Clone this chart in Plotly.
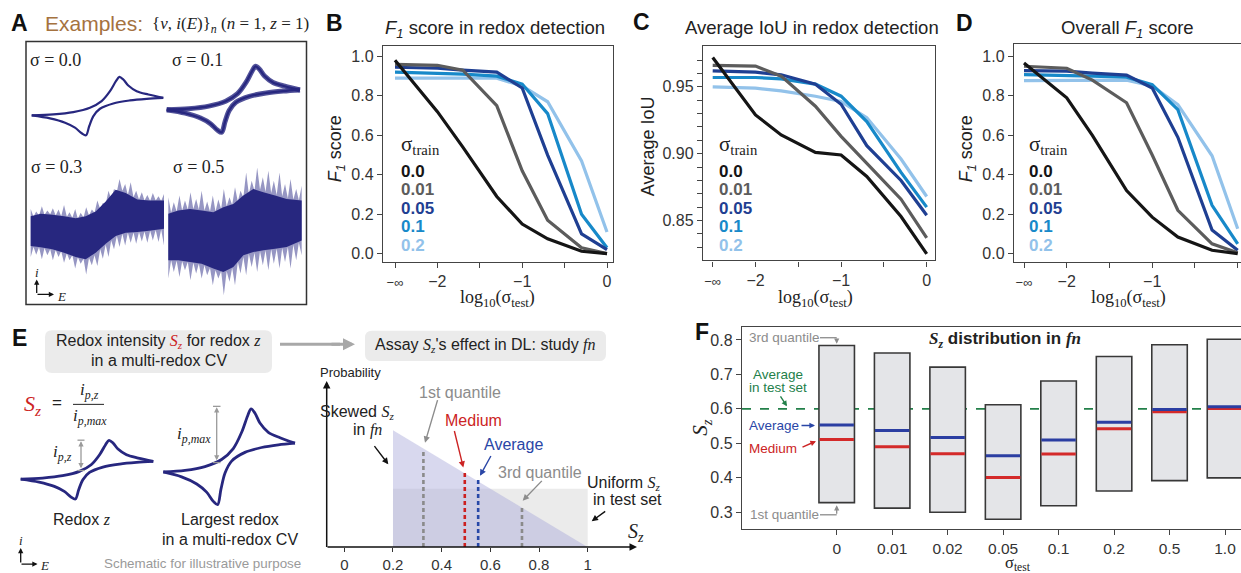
import plotly.graph_objects as go

W, H = 1241, 573
SANS = "Liberation Sans, Arial, sans-serif"
SERIF = "Liberation Serif, Times New Roman, serif"
INK = "#222222"
NAVY = "#27277f"
GRAY_TXT = "#8c8c8c"
RED = "#cc2424"
BLUE = "#2a46a6"
GREEN = "#23804a"

# ---------------------------------------------------------------- data
# log10(sigma_test) positions; sigma_test = 0 (-inf) is drawn at -2.5
log_sigma_test = [-2.5, -2.0, -1.7, -1.3, -1.0, -0.7, -0.3, 0.0]
x_tick_vals = [-2.5, -2.0, -1.5, -1.0, -0.5, 0.0]
x_tick_text = ["<span style='font-size:13px'>−∞</span>", "−2", "", "−1", "", "0"]

sigma_train_labels = ["0.0", "0.01", "0.05", "0.1", "0.2"]
train_colors = ["#151515", "#5c5c5c", "#1f3f92", "#1789c9", "#92c2ea"]

# B: F1 score in redox detection
f1_redox_000 = [0.98, 0.72, 0.54, 0.29, 0.15, 0.075, 0.012, 0.00]
f1_redox_001 = [0.96, 0.955, 0.93, 0.75, 0.42, 0.17, 0.03, 0.00]
f1_redox_005 = [0.945, 0.94, 0.93, 0.92, 0.84, 0.50, 0.10, 0.02]
f1_redox_010 = [0.92, 0.915, 0.91, 0.90, 0.86, 0.71, 0.20, 0.03]
f1_redox_020 = [0.89, 0.89, 0.89, 0.89, 0.85, 0.77, 0.47, 0.11]

# C: average IoU in redox detection
iou_000 = [0.972, 0.929, 0.914, 0.901, 0.899, 0.883, 0.853, 0.825]
iou_001 = [0.966, 0.9655, 0.958, 0.9355, 0.913, 0.893, 0.866, 0.837]
iou_005 = [0.962, 0.961, 0.959, 0.952, 0.937, 0.906, 0.880, 0.854]
iou_010 = [0.957, 0.957, 0.956, 0.952, 0.943, 0.924, 0.886, 0.860]
iou_020 = [0.950, 0.949, 0.947, 0.943, 0.939, 0.927, 0.896, 0.868]
iou_tick_vals = [0.83, 0.84, 0.85, 0.86, 0.87, 0.88, 0.89, 0.90, 0.91, 0.92, 0.93, 0.94, 0.95, 0.96, 0.97]
iou_tick_text = ["", "", "0.85", "", "", "", "", "0.90", "", "", "", "", "0.95", "", ""]

# D: overall F1 score
f1_all_000 = [0.966, 0.79, 0.60, 0.32, 0.185, 0.084, 0.017, 0.00]
f1_all_001 = [0.95, 0.94, 0.88, 0.765, 0.50, 0.22, 0.05, 0.005]
f1_all_005 = [0.928, 0.925, 0.915, 0.905, 0.84, 0.59, 0.12, 0.017]
f1_all_010 = [0.908, 0.905, 0.90, 0.895, 0.857, 0.73, 0.245, 0.05]
f1_all_020 = [0.877, 0.877, 0.877, 0.88, 0.85, 0.756, 0.496, 0.126]

f1_tick_vals = [0.0, 0.2, 0.4, 0.6, 0.8, 1.0]
f1_tick_text = ["0.0", "0.2", "0.4", "0.6", "0.8", "1.0"]

# F: S_z distribution in false negatives
sigma_test_labels = ["0", "0.01", "0.02", "0.05", "0.1", "0.2", "0.5", "1.0"]
sz_q3 = [0.784, 0.762, 0.721, 0.612, 0.681, 0.752, 0.786, 0.802]
sz_q1 = [0.328, 0.312, 0.300, 0.280, 0.319, 0.362, 0.392, 0.400]
sz_avg = [0.553, 0.537, 0.517, 0.464, 0.510, 0.561, 0.598, 0.606]
sz_med = [0.511, 0.490, 0.470, 0.401, 0.469, 0.542, 0.592, 0.601]
sz_test_avg = 0.6
sz_tick_vals = [0.3, 0.4, 0.5, 0.6, 0.7, 0.8]
sz_tick_text = ["0.3", "0.4", "0.5", "0.6", "0.7", "0.8"]

# E: schematic S_z densities
sz_support = [0.2, 1.0]
skew_peak = 2.5
uniform_level = 1.25
sz_q1_mark, sz_q1_top = 0.325, 2.09
sz_med_mark, sz_med_top = 0.495, 1.62
sz_avg_mark, sz_avg_top = 0.55, 1.45
sz_q3_mark, sz_q3_top = 0.73, 0.89
sz_axis_ticks = [0, 0.2, 0.4, 0.6, 0.8, 1]
sz_axis_text = ["0", "0.2", "0.4", "0.6", "0.8", "1"]

# Cyclic voltammogram (E in V, i in a.u.): forward and reverse branches
cv_fwd_E = [-0.30, -0.168, -0.047, 0.054, 0.125, 0.176, 0.212, 0.233, 0.257, 0.287, 0.338, 0.409, 0.50]
cv_fwd_i = [-0.18, -0.15, -0.08, 0.05, 0.25, 0.55, 0.85, 0.98, 0.90, 0.72, 0.55, 0.45, 0.35]
cv_rev_E = [0.50, 0.399, 0.297, 0.196, 0.115, 0.075, 0.050, 0.030, 0.004, -0.037, -0.097, -0.189, -0.30]
cv_rev_i = [0.35, 0.32, 0.27, 0.18, 0.02, -0.20, -0.50, -0.78, -0.72, -0.55, -0.40, -0.27, -0.18]

# Noisy CVs: dense core band and ragged spike envelope
noise_E_core = [-0.30, -0.24, -0.17, -0.10, -0.03, 0.03, 0.09, 0.15, 0.21, 0.27, 0.34, 0.41, 0.50]
noise_E_spk = [-0.300, -0.283, -0.267, -0.250, -0.233, -0.217, -0.200, -0.183, -0.167, -0.150,
               -0.133, -0.117, -0.100, -0.083, -0.067, -0.050, -0.033, -0.017, 0.000, 0.017,
               0.033, 0.050, 0.067, 0.083, 0.100, 0.117, 0.133, 0.150, 0.167, 0.183,
               0.200, 0.217, 0.233, 0.250, 0.267, 0.283, 0.300, 0.317, 0.333, 0.350,
               0.367, 0.383, 0.400, 0.417, 0.433, 0.450, 0.467, 0.483, 0.500]

s03_core_top = [0.38, 0.45, 0.42, 0.38, 0.32, 0.38, 0.52, 0.82, 1.18, 1.08, 0.88, 0.85, 0.85]
s03_core_bot = [-0.52, -0.56, -0.62, -0.72, -0.85, -0.92, -0.72, -0.45, -0.22, -0.12, -0.10, -0.06, 0.00]
s03_spk_top = [0.60, 0.36, 0.52, 0.40, 0.68, 0.42, 0.55, 0.44, 0.62, 0.40,
               0.58, 0.38, 0.72, 0.36, 0.50, 0.33, 0.60, 0.30, 0.48, 0.34,
               0.65, 0.40, 0.58, 0.48, 0.85, 0.60, 0.78, 0.75, 1.15, 0.90,
               1.20, 1.12, 1.50, 1.15, 1.35, 1.02, 1.40, 0.95, 1.15, 0.88,
               1.10, 0.85, 1.02, 0.84, 1.08, 0.85, 0.98, 0.84, 1.05]
s03_spk_bot = [-0.85, -0.55, -0.78, -0.56, -0.92, -0.58, -0.80, -0.62, -0.95, -0.64,
               -0.85, -0.68, -1.02, -0.74, -0.95, -0.80, -1.20, -0.86, -1.05, -0.90,
               -1.38, -0.88, -1.10, -0.80, -1.12, -0.62, -0.90, -0.48, -0.85, -0.35,
               -0.62, -0.22, -0.55, -0.15, -0.50, -0.12, -0.42, -0.11, -0.45, -0.10,
               -0.38, -0.08, -0.42, -0.06, -0.35, -0.04, -0.40, -0.02, -0.50]

s05_core_top = [0.45, 0.55, 0.60, 0.55, 0.50, 0.65, 0.75, 1.00, 1.20, 1.10, 1.00, 0.90, 0.85]
s05_core_bot = [-0.95, -0.95, -1.00, -1.05, -1.20, -1.30, -1.15, -0.80, -0.70, -0.65, -0.60, -0.55, -0.35]
s05_spk_top = [0.95, 0.48, 0.80, 0.52, 1.00, 0.55, 0.85, 0.58, 1.10, 0.60,
               0.90, 0.58, 1.15, 0.55, 0.82, 0.52, 1.00, 0.52, 0.88, 0.60,
               1.20, 0.68, 0.95, 0.72, 1.25, 0.82, 1.15, 0.95, 1.70, 1.05,
               1.45, 1.15, 1.85, 1.18, 1.55, 1.12, 1.75, 1.08, 1.45, 1.02,
               1.70, 0.98, 1.35, 0.92, 1.50, 0.88, 1.20, 0.86, 1.30]
s05_spk_bot = [-1.50, -0.95, -1.30, -0.96, -1.45, -0.98, -1.25, -1.00, -1.55, -1.02,
               -1.35, -1.05, -1.50, -1.10, -1.40, -1.18, -1.70, -1.25, -1.50, -1.28,
               -2.00, -1.28, -1.60, -1.18, -1.70, -1.00, -1.35, -0.85, -1.40, -0.75,
               -1.15, -0.72, -1.30, -0.68, -1.10, -0.65, -1.25, -0.62, -1.05, -0.60,
               -1.20, -0.58, -1.00, -0.55, -1.20, -0.48, -0.95, -0.42, -0.80]


# ---------------------------------------------------------------- helpers
def X(p):
    return p / W


def Y(p):
    return 1 - p / H


def span(p_lo, p_hi, pa, va, pb, vb):
    k = (vb - va) / (pb - pa)
    return [va + (p_lo - pa) * k, va + (p_hi - pa) * k]


fig = go.Figure()
layout = dict(width=W, height=H, margin=dict(l=0, r=0, t=0, b=0),
              paper_bgcolor="white", plot_bgcolor="rgba(0,0,0,0)", showlegend=False)
annotations = []
shapes = []

TICKFONT = dict(family=SANS, size=16, color="#333333")


def framed_axes(n, x0, x1, y0, y1, xr, yr, xt, xl, yt, yl, ymirror=True):
    s = "" if n == 1 else str(n)
    layout["xaxis" + s] = dict(domain=[X(x0), X(x1)], range=xr, anchor="y" + s,
                               showline=True, linecolor="#444", linewidth=1.4, mirror=True,
                               ticks="outside", ticklen=5, tickwidth=1.3, tickcolor="#444",
                               tickvals=xt, ticktext=xl, tickfont=TICKFONT,
                               showgrid=False, zeroline=False, fixedrange=True)
    layout["yaxis" + s] = dict(domain=[Y(y1), Y(y0)], range=yr, anchor="x" + s,
                               showline=True, linecolor="#444", linewidth=1.4, mirror=ymirror,
                               ticks="outside", ticklen=5, tickwidth=1.3, tickcolor="#444",
                               tickvals=yt, ticktext=yl, tickfont=TICKFONT,
                               showgrid=False, zeroline=False, fixedrange=True)


def hidden_axes(n, x0, x1, y0, y1, xr, yr):
    s = str(n)
    layout["xaxis" + s] = dict(domain=[X(x0), X(x1)], range=xr, anchor="y" + s, visible=False, fixedrange=True)
    layout["yaxis" + s] = dict(domain=[Y(y1), Y(y0)], range=yr, anchor="x" + s, visible=False, fixedrange=True)


def text(x, y, s, size=16, color=INK, family=SANS, xanchor="center", yanchor="middle", angle=0):
    annotations.append(dict(x=X(x), y=Y(y), xref="paper", yref="paper", text=s, showarrow=False,
                            font=dict(family=family, size=size, color=color),
                            xanchor=xanchor, yanchor=yanchor, textangle=angle))


def arrow(xt, yt, xh, yh, color=INK, width=1.5, size=1.0, side="end"):
    annotations.append(dict(x=X(xh), y=Y(yh), xref="paper", yref="paper",
                            ax=xt - xh, ay=yt - yh, axref="pixel", ayref="pixel",
                            text="", showarrow=True, arrowhead=2, startarrowhead=2,
                            arrowsize=size, startarrowsize=size, arrowwidth=width,
                            arrowcolor=color, arrowside=side))


def seg(x0, y0, x1, y1, color, width=1.5):
    shapes.append(dict(type="line", xref="paper", yref="paper", x0=X(x0), y0=Y(y0), x1=X(x1), y1=Y(y1),
                       line=dict(color=color, width=width)))


def rounded_box(x0, y0, x1, y1, r, color):
    def P(x, y):
        return f"{X(x):.5f},{Y(y):.5f}"
    path = (f"M{P(x0 + r, y0)} L{P(x1 - r, y0)} Q{P(x1, y0)} {P(x1, y0 + r)} "
            f"L{P(x1, y1 - r)} Q{P(x1, y1)} {P(x1 - r, y1)} L{P(x0 + r, y1)} "
            f"Q{P(x0, y1)} {P(x0, y1 - r)} L{P(x0, y0 + r)} Q{P(x0, y0)} {P(x0 + r, y0)} Z")
    shapes.append(dict(type="path", xref="paper", yref="paper", path=path,
                       fillcolor=color, line=dict(width=0), layer="below"))


def sub_serif(base, sub):
    return (f"<span style='font-family:Liberation Serif'><i>{base}</i><sub><i>{sub}</i></sub></span>")


# ---------------------------------------------------------------- B, C, D line panels
framed_axes(1, 383, 613, 46, 263, span(383, 613, 395, -2.5, 607, 0.0), span(263, 46, 255, 0.0, 56.7, 1.0),
            x_tick_vals, x_tick_text, f1_tick_vals, f1_tick_text)
framed_axes(2, 703, 935, 46.7, 261.7, span(703, 935, 712.7, -2.5, 926.7, 0.0),
            span(261.7, 46.7, 221.7, 0.85, 87.3, 0.95),
            x_tick_vals, x_tick_text, iou_tick_vals, iou_tick_text)
framed_axes(3, 1014, 1241, 44.3, 263.3, span(1014, 1241, 1024, -2.5, 1237.7, 0.0),
            span(263.3, 44.3, 255, 0.0, 56.7, 1.0),
            x_tick_vals, x_tick_text, f1_tick_vals, f1_tick_text, ymirror=False)

panel_series = [
    ("x", "y", [f1_redox_000, f1_redox_001, f1_redox_005, f1_redox_010, f1_redox_020]),
    ("x2", "y2", [iou_000, iou_001, iou_005, iou_010, iou_020]),
    ("x3", "y3", [f1_all_000, f1_all_001, f1_all_005, f1_all_010, f1_all_020]),
]
for xa, ya, series in panel_series:
    for vals, col in reversed(list(zip(series, train_colors))):
        fig.add_trace(go.Scatter(x=log_sigma_test, y=vals, mode="lines", xaxis=xa, yaxis=ya,
                                 line=dict(color=col, width=3.2), hoverinfo="skip"))

# panel titles, axis titles and sigma_train keys
text(495, 29, "<i>F</i><sub><i>1</i></sub> score in redox detection", size=18.5)
text(812, 28, "Average IoU in redox detection", size=18.5)
text(1127, 29, "Overall <i>F</i><sub><i>1</i></sub> score", size=18.5)
text(336, 150, "<i>F</i><sub><i>1</i></sub> score", size=18, angle=-90)
text(648, 147, "Average IoU", size=18, angle=-90)
text(967, 150, "<i>F</i><sub><i>1</i></sub> score", size=18, angle=-90)
for cx in (497, 815, 1128):
    text(cx, 300, "log<sub>10</sub>(σ<sub>test</sub>)", size=18, family=SERIF)
key_rows = [172, 191, 209.5, 228, 247]
for lx in (399, 717, 1027):
    text(lx, 146, "σ<sub>train</sub>", size=21, family=SERIF, xanchor="left")
    for lab, col, ry in zip(sigma_train_labels, train_colors, key_rows):
        text(lx, ry, f"<b>{lab}</b>", size=17, color=col, xanchor="left")

# panel letters
for lx, ly, lt in [(20, 23, "A"), (334.5, 23.5, "B"), (641, 22, "C"), (964, 23.5, "D"),
                   (19, 340, "E"), (702, 334, "F")]:
    text(lx, ly, f"<b>{lt}</b>", size=23, color="#111")

# ---------------------------------------------------------------- F: S_z distribution
framed_axes(4, 742, 1241, 329, 532, span(742, 1241, 836.7, 0, 1225, 7), span(532, 329, 515, 0.3, 341.7, 0.8),
            list(range(len(sigma_test_labels))), sigma_test_labels, sz_tick_vals, sz_tick_text, ymirror=False)
layout["xaxis4"]["tickfont"] = dict(family=SANS, size=15.5, color="#333333")
shapes.append(dict(type="line", xref="paper", yref="y4", x0=X(742), x1=X(1241), y0=sz_test_avg, y1=sz_test_avg,
                   line=dict(color=GREEN, width=1.6, dash="dash"), layer="below"))
idx = list(range(len(sigma_test_labels)))
fig.add_trace(go.Bar(x=idx, y=[hi - lo for hi, lo in zip(sz_q3, sz_q1)], base=sz_q1, width=0.64,
                     marker=dict(color="#e4e5e8", line=dict(color="#383838", width=1.6)),
                     xaxis="x4", yaxis="y4", hoverinfo="skip"))
half = 0.31
for vals, col in ((sz_med, "#d42a2a"), (sz_avg, "#2b3ea2")):
    xs, ys = [], []
    for k, v in zip(idx, vals):
        xs += [k - half, k + half, None]
        ys += [v, v, None]
    fig.add_trace(go.Scatter(x=xs, y=ys, mode="lines", line=dict(color=col, width=3),
                             xaxis="x4", yaxis="y4", hoverinfo="skip"))

text(1005, 342, "<b>" + sub_serif("S", "z") + " distribution in "
     "<span style='font-family:Liberation Serif'><i>fn</i></span></b>", size=17)
text(701, 430, sub_serif("S", "z"), size=21, angle=-90)
text(1018, 566, "σ<sub>test</sub>", size=16.5, family=SERIF)
text(784, 339.5, "3rd quantile", size=13.5, color=GRAY_TXT)
seg(820, 339.5, 836.7, 339.5, GRAY_TXT, 1.3)
arrow(836.7, 339, 836.7, 345.5, GRAY_TXT, 1.3, 0.8)
text(784, 517.5, "1st quantile", size=13.5, color=GRAY_TXT)
seg(820, 517.5, 836.7, 517.5, GRAY_TXT, 1.3)
arrow(836.7, 518, 836.7, 508, GRAY_TXT, 1.3, 0.8)
text(778, 376, "Average", size=13.5, color=GREEN)
text(778, 389.5, "in test set", size=13.5, color=GREEN)
arrow(779.5, 397, 787, 408.5, GREEN, 1.4, 0.8)
text(773.5, 428, "Average", size=13.5, color=BLUE)
arrow(800, 427.7, 815, 427.7, BLUE, 1.4, 0.8)
text(773, 450.5, "Medium", size=13.5, color=RED)
arrow(801, 450, 816, 443.5, RED, 1.4, 0.8)

# ---------------------------------------------------------------- E: schematic density chart
layout["xaxis5"] = dict(domain=[X(326.7), X(640)], range=span(326.7, 640, 344.3, 0, 587.7, 1), anchor="y5",
                        showline=False, ticks="outside", ticklen=4, tickcolor="#333",
                        tickvals=sz_axis_ticks, ticktext=sz_axis_text, tickfont=dict(family=SANS, size=15, color="#333"),
                        showgrid=False, zeroline=False, fixedrange=True)
layout["yaxis5"] = dict(domain=[Y(550), Y(380)], range=span(550, 380, 550, 0, 503, 1), anchor="x5",
                        visible=False, fixedrange=True)
fig.add_trace(go.Scatter(x=[sz_support[0], sz_support[1], sz_support[1], sz_support[0]],
                         y=[0, 0, uniform_level, uniform_level], fill="toself", mode="none",
                         fillcolor="#ebebeb", xaxis="x5", yaxis="y5", hoverinfo="skip"))
fig.add_trace(go.Scatter(x=[sz_support[0], sz_support[0], sz_support[1]], y=[0, skew_peak, 0],
                         fill="toself", mode="none", fillcolor="rgba(168,168,218,0.45)",
                         xaxis="x5", yaxis="y5", hoverinfo="skip"))
for xm, top, col in ((sz_q1_mark, sz_q1_top, "#8a8a8a"), (sz_med_mark, sz_med_top, "#cc2020"),
                     (sz_avg_mark, sz_avg_top, "#2748a8"), (sz_q3_mark, sz_q3_top, "#8a8a8a")):
    fig.add_trace(go.Scatter(x=[xm, xm], y=[0, top], mode="lines", xaxis="x5", yaxis="y5",
                             line=dict(color=col, width=2.6, dash="4px,3px"), hoverinfo="skip"))
arrow(326.7, 550.5, 326.7, 383, "#111", 1.5, 1.0)
arrow(326, 550, 637, 550, "#111", 1.5, 1.0)
text(350, 374, "Probability", size=13)
text(636, 535, sub_serif("S", "z"), size=20)
text(460, 395, "1st quantile", size=16, color=GRAY_TXT)
arrow(438, 401, 425, 445, GRAY_TXT, 1.4, 0.9)
text(357, 415, "Skewed " + sub_serif("S", "z"), size=16)
text(367, 432, "in <span style='font-family:Liberation Serif'><i>fn</i></span>", size=16)
arrow(373.3, 447, 388.3, 466.7, "#111", 1.4, 0.9)
text(473, 423, "Medium", size=16, color=RED)
arrow(454, 432, 463.3, 470, RED, 1.4, 0.9)
text(513, 447, "Average", size=16, color=BLUE)
arrow(491.7, 457, 480, 478.3, BLUE, 1.4, 0.9)
text(540, 475, "3rd quantile", size=16, color=GRAY_TXT)
arrow(543.3, 482, 522.7, 503.3, GRAY_TXT, 1.4, 0.9)
text(623, 486, "Uniform " + sub_serif("S", "z"), size=16)
text(627, 502, "in test set", size=16)
arrow(606.7, 513, 591.7, 524, "#111", 1.4, 0.9)

# E: header boxes and formula
rounded_box(45, 332, 272, 375, 7, "#ebebeb")
text(158.5, 343.5, "Redox intensity <span style='color:#cc2424'>" + sub_serif("S", "z") +
     "</span> for redox <span style='font-family:Liberation Serif'><i>z</i></span>", size=16)
text(158.5, 362, "in a multi-redox CV", size=16)
seg(280, 346, 340, 346, "#a8a8a8", 3)
arrow(330, 346, 355, 346, "#a8a8a8", 3, 0.8)
rounded_box(365, 332.5, 606, 363, 7, "#ebebeb")
text(485.5, 347.5, "Assay " + sub_serif("S", "z") + "'s effect in DL: study "
     "<span style='font-family:Liberation Serif'><i>fn</i></span>", size=16)

text(32, 407, "<span style='color:#cc2424'>" + sub_serif("S", "z") + "</span>", size=22)
text(57, 405, "=", size=17)
text(89, 393, sub_serif("i", "p,z"), size=17)
seg(73, 406.5, 104, 406.5, "#222", 1)
text(90, 419.5, sub_serif("i", "p,max"), size=17)

hidden_axes(10, 15, 160, 436, 508, span(15, 160, 20.7, -0.3, 153.3, 0.5), span(508, 436, 501.7, -0.78, 442.7, 0.98))
hidden_axes(11, 158, 300, 404, 513, span(158, 300, 163.3, -0.3, 295, 0.5), span(513, 404, 507.3, -0.78, 411, 0.98))
for xa, ya in (("x10", "y10"), ("x11", "y11")):
    for ex, iy in ((cv_fwd_E, cv_fwd_i), (cv_rev_E, cv_rev_i)):
        fig.add_trace(go.Scatter(x=ex, y=iy, mode="lines", line=dict(color=NAVY, width=2.8, shape="spline", smoothing=0.9),
                                 xaxis=xa, yaxis=ya, hoverinfo="skip"))

# peak-height markers
seg(77.5, 442.5, 84.5, 442.5, "#9a9a9a", 1.3)
seg(77.5, 473, 84.5, 473, "#9a9a9a", 1.3)
arrow(81, 472, 81, 443.5, "#9a9a9a", 1.3, 0.8, side="end+start")
text(62, 455, sub_serif("i", "p,z"), size=17)
seg(213, 408.5, 220.5, 408.5, "#9a9a9a", 1.3)
seg(213, 465, 220.5, 465, "#9a9a9a", 1.3)
arrow(216.7, 464, 216.7, 409.5, "#9a9a9a", 1.3, 0.8, side="end+start")
text(194, 437, sub_serif("i", "p,max"), size=17)

text(82, 522, "Redox <span style='font-family:Liberation Serif'><i>z</i></span>", size=16)
text(230, 522, "Largest redox", size=16)
text(230, 542, "in a multi-redox CV", size=16)
text(203, 566.5, "Schematic for illustrative purpose", size=13.4, color="#9a9a9a")
arrow(20.7, 567, 20.7, 551, "#111", 1.3, 0.8)
arrow(20, 567, 37.5, 567, "#111", 1.3, 0.8)
text(21, 543, "<i>i</i>", size=13, family=SERIF)
text(44, 568, "<i>E</i>", size=13, family=SERIF)

# ---------------------------------------------------------------- A: example CVs
shapes.append(dict(type="rect", xref="paper", yref="paper", x0=X(26), x1=X(306.5), y0=Y(306), y1=Y(41.7),
                   line=dict(color="#333", width=1.5), fillcolor="rgba(0,0,0,0)"))
text(43, 24, "Examples:", size=21, color="#a5723f", xanchor="left")
text(150, 25, "{<i>v</i>, <i>i</i>(<i>E</i>)}<sub><i>n</i></sub> (<i>n</i> = 1, <i>z</i> = 1)",
     size=17, family=SERIF, xanchor="left")

hidden_axes(6, 27, 168, 68, 142, span(27, 168, 31.7, -0.3, 163.3, 0.5), span(142, 68, 136, -0.78, 77.3, 0.98))
hidden_axes(7, 165, 304, 58, 142, span(165, 304, 166.7, -0.3, 300, 0.5), span(142, 58, 133, -0.78, 66.7, 0.98))
hidden_axes(8, 28, 167, 150, 302, span(28, 167, 30.7, -0.3, 164, 0.5), span(302, 150, 230, 0.0, 196.65, 1.0))
hidden_axes(9, 166, 305, 150, 304, span(166, 305, 168.3, -0.3, 301.7, 0.5), span(304, 150, 230, 0.0, 196.65, 1.0))

for ex, iy in ((cv_fwd_E, cv_fwd_i), (cv_rev_E, cv_rev_i)):
    fig.add_trace(go.Scatter(x=ex, y=iy, mode="lines", line=dict(color=NAVY, width=2.2, shape="spline", smoothing=0.9),
                             xaxis="x6", yaxis="y6", hoverinfo="skip"))
    fig.add_trace(go.Scatter(x=ex, y=iy, mode="lines", line=dict(color="rgba(39,39,127,0.8)", width=5, shape="spline", smoothing=0.9),
                             xaxis="x7", yaxis="y7", hoverinfo="skip"))
    fig.add_trace(go.Scatter(x=ex, y=iy, mode="lines", line=dict(color=NAVY, width=2.2, shape="spline", smoothing=0.9),
                             xaxis="x7", yaxis="y7", hoverinfo="skip"))

for xa, ya, spk_t, spk_b, core_t, core_b in (("x8", "y8", s03_spk_top, s03_spk_bot, s03_core_top, s03_core_bot),
                                             ("x9", "y9", s05_spk_top, s05_spk_bot, s05_core_top, s05_core_bot)):
    fig.add_trace(go.Scatter(x=noise_E_spk + noise_E_spk[::-1], y=spk_t + spk_b[::-1], fill="toself", mode="none",
                             fillcolor="rgba(45,45,135,0.5)", xaxis=xa, yaxis=ya, hoverinfo="skip"))
    fig.add_trace(go.Scatter(x=noise_E_core + noise_E_core[::-1], y=core_t + core_b[::-1], fill="toself", mode="none",
                             fillcolor=NAVY, xaxis=xa, yaxis=ya, hoverinfo="skip"))

text(28, 60, "σ = 0.0", size=18, family=SERIF, xanchor="left")
text(170, 60, "σ = 0.1", size=18, family=SERIF, xanchor="left")
text(29, 168, "σ = 0.3", size=18, family=SERIF, xanchor="left")
text(170.5, 168, "σ = 0.5", size=18, family=SERIF, xanchor="left")
arrow(36.7, 296, 36.7, 281, "#111", 1.3, 0.8)
arrow(36, 296, 54, 296, "#111", 1.3, 0.8)
text(37, 274, "<i>i</i>", size=13, family=SERIF)
text(61.5, 298, "<i>E</i>", size=13, family=SERIF)

layout["annotations"] = annotations
layout["shapes"] = shapes
fig.update_layout(**layout)
fig.write_html("out.html")
